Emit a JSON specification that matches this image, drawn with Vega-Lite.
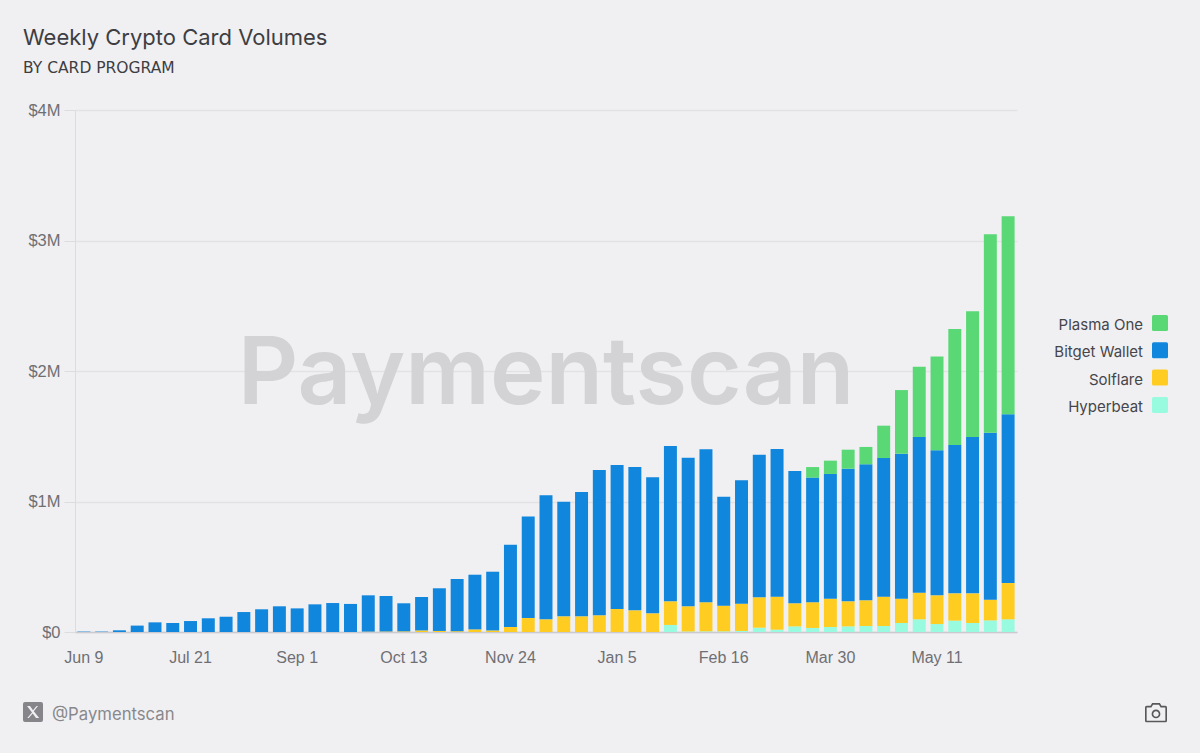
{
  "$schema": "https://vega.github.io/schema/vega-lite/v6.json",
  "autosize": "none",
  "width": 942,
  "height": 522,
  "padding": {"left": 75, "top": 110, "right": 183, "bottom": 121},
  "background": "#f0f0f3",
  "title": {
    "text": "Weekly Crypto Card Volumes",
    "subtitle": "BY CARD PROGRAM",
    "anchor": "start",
    "frame": "group",
    "dx": -52,
    "offset": 25,
    "font": "Inter",
    "fontSize": 22,
    "fontWeight": 400,
    "color": "#3e3e42",
    "subtitleFont": "DejaVu Sans",
    "subtitleFontSize": 15.5,
    "subtitleColor": "#3e3e42",
    "subtitlePadding": 11
  },
  "config": {"view": {"stroke": null}},
  "data": {"values": [
    {"week": "Jun 9", "program": "Bitget Wallet", "volume": 3000},
    {"week": "Jun 16", "program": "Bitget Wallet", "volume": 3000},
    {"week": "Jun 23", "program": "Bitget Wallet", "volume": 13000},
    {"week": "Jun 30", "program": "Bitget Wallet", "volume": 49000},
    {"week": "Jul 7", "program": "Bitget Wallet", "volume": 74000},
    {"week": "Jul 14", "program": "Bitget Wallet", "volume": 69000},
    {"week": "Jul 21", "program": "Bitget Wallet", "volume": 84000},
    {"week": "Jul 28", "program": "Bitget Wallet", "volume": 105000},
    {"week": "Aug 4", "program": "Bitget Wallet", "volume": 117000},
    {"week": "Aug 11", "program": "Bitget Wallet", "volume": 153000},
    {"week": "Aug 18", "program": "Bitget Wallet", "volume": 174000},
    {"week": "Aug 25", "program": "Bitget Wallet", "volume": 197000},
    {"week": "Sep 1", "program": "Bitget Wallet", "volume": 181000},
    {"week": "Sep 8", "program": "Bitget Wallet", "volume": 212000},
    {"week": "Sep 15", "program": "Bitget Wallet", "volume": 222000},
    {"week": "Sep 22", "program": "Bitget Wallet", "volume": 215000},
    {"week": "Sep 29", "program": "Solflare", "volume": 3000},
    {"week": "Sep 29", "program": "Bitget Wallet", "volume": 278000},
    {"week": "Oct 6", "program": "Solflare", "volume": 4000},
    {"week": "Oct 6", "program": "Bitget Wallet", "volume": 272000},
    {"week": "Oct 13", "program": "Solflare", "volume": 5000},
    {"week": "Oct 13", "program": "Bitget Wallet", "volume": 215000},
    {"week": "Oct 20", "program": "Solflare", "volume": 12000},
    {"week": "Oct 20", "program": "Bitget Wallet", "volume": 256000},
    {"week": "Oct 27", "program": "Solflare", "volume": 8000},
    {"week": "Oct 27", "program": "Bitget Wallet", "volume": 327000},
    {"week": "Nov 3", "program": "Solflare", "volume": 6000},
    {"week": "Nov 3", "program": "Bitget Wallet", "volume": 400000},
    {"week": "Nov 10", "program": "Solflare", "volume": 20000},
    {"week": "Nov 10", "program": "Bitget Wallet", "volume": 419000},
    {"week": "Nov 17", "program": "Solflare", "volume": 12000},
    {"week": "Nov 17", "program": "Bitget Wallet", "volume": 450000},
    {"week": "Nov 24", "program": "Solflare", "volume": 38000},
    {"week": "Nov 24", "program": "Bitget Wallet", "volume": 631000},
    {"week": "Dec 1", "program": "Solflare", "volume": 107000},
    {"week": "Dec 1", "program": "Bitget Wallet", "volume": 779000},
    {"week": "Dec 8", "program": "Solflare", "volume": 97000},
    {"week": "Dec 8", "program": "Bitget Wallet", "volume": 950000},
    {"week": "Dec 15", "program": "Solflare", "volume": 120000},
    {"week": "Dec 15", "program": "Bitget Wallet", "volume": 879000},
    {"week": "Dec 22", "program": "Solflare", "volume": 120000},
    {"week": "Dec 22", "program": "Bitget Wallet", "volume": 953000},
    {"week": "Dec 29", "program": "Solflare", "volume": 128000},
    {"week": "Dec 29", "program": "Bitget Wallet", "volume": 1113000},
    {"week": "Jan 5", "program": "Solflare", "volume": 176000},
    {"week": "Jan 5", "program": "Bitget Wallet", "volume": 1104000},
    {"week": "Jan 12", "program": "Solflare", "volume": 166000},
    {"week": "Jan 12", "program": "Bitget Wallet", "volume": 1098000},
    {"week": "Jan 19", "program": "Solflare", "volume": 143000},
    {"week": "Jan 19", "program": "Bitget Wallet", "volume": 1042000},
    {"week": "Jan 26", "program": "Hyperbeat", "volume": 54000},
    {"week": "Jan 26", "program": "Solflare", "volume": 181000},
    {"week": "Jan 26", "program": "Bitget Wallet", "volume": 1190000},
    {"week": "Feb 2", "program": "Hyperbeat", "volume": 4000},
    {"week": "Feb 2", "program": "Solflare", "volume": 193000},
    {"week": "Feb 2", "program": "Bitget Wallet", "volume": 1139000},
    {"week": "Feb 9", "program": "Hyperbeat", "volume": 5000},
    {"week": "Feb 9", "program": "Solflare", "volume": 223000},
    {"week": "Feb 9", "program": "Bitget Wallet", "volume": 1172000},
    {"week": "Feb 16", "program": "Hyperbeat", "volume": 5000},
    {"week": "Feb 16", "program": "Solflare", "volume": 197000},
    {"week": "Feb 16", "program": "Bitget Wallet", "volume": 835000},
    {"week": "Feb 23", "program": "Hyperbeat", "volume": 8000},
    {"week": "Feb 23", "program": "Solflare", "volume": 209000},
    {"week": "Feb 23", "program": "Bitget Wallet", "volume": 945000},
    {"week": "Mar 2", "program": "Hyperbeat", "volume": 33000},
    {"week": "Mar 2", "program": "Solflare", "volume": 233000},
    {"week": "Mar 2", "program": "Bitget Wallet", "volume": 1093000},
    {"week": "Mar 9", "program": "Hyperbeat", "volume": 18000},
    {"week": "Mar 9", "program": "Solflare", "volume": 253000},
    {"week": "Mar 9", "program": "Bitget Wallet", "volume": 1131000},
    {"week": "Mar 16", "program": "Hyperbeat", "volume": 43000},
    {"week": "Mar 16", "program": "Solflare", "volume": 177000},
    {"week": "Mar 16", "program": "Bitget Wallet", "volume": 1014000},
    {"week": "Mar 23", "program": "Hyperbeat", "volume": 31000},
    {"week": "Mar 23", "program": "Solflare", "volume": 197000},
    {"week": "Mar 23", "program": "Bitget Wallet", "volume": 955000},
    {"week": "Mar 23", "program": "Plasma One", "volume": 81000},
    {"week": "Mar 30", "program": "Hyperbeat", "volume": 38000},
    {"week": "Mar 30", "program": "Solflare", "volume": 217000},
    {"week": "Mar 30", "program": "Bitget Wallet", "volume": 956000},
    {"week": "Mar 30", "program": "Plasma One", "volume": 102000},
    {"week": "Apr 6", "program": "Hyperbeat", "volume": 43000},
    {"week": "Apr 6", "program": "Solflare", "volume": 192000},
    {"week": "Apr 6", "program": "Bitget Wallet", "volume": 1016000},
    {"week": "Apr 6", "program": "Plasma One", "volume": 146000},
    {"week": "Apr 13", "program": "Hyperbeat", "volume": 46000},
    {"week": "Apr 13", "program": "Solflare", "volume": 197000},
    {"week": "Apr 13", "program": "Bitget Wallet", "volume": 1042000},
    {"week": "Apr 13", "program": "Plasma One", "volume": 133000},
    {"week": "Apr 20", "program": "Hyperbeat", "volume": 46000},
    {"week": "Apr 20", "program": "Solflare", "volume": 225000},
    {"week": "Apr 20", "program": "Bitget Wallet", "volume": 1062000},
    {"week": "Apr 20", "program": "Plasma One", "volume": 248000},
    {"week": "Apr 27", "program": "Hyperbeat", "volume": 69000},
    {"week": "Apr 27", "program": "Solflare", "volume": 186000},
    {"week": "Apr 27", "program": "Bitget Wallet", "volume": 1111000},
    {"week": "Apr 27", "program": "Plasma One", "volume": 488000},
    {"week": "May 4", "program": "Hyperbeat", "volume": 97000},
    {"week": "May 4", "program": "Solflare", "volume": 204000},
    {"week": "May 4", "program": "Bitget Wallet", "volume": 1193000},
    {"week": "May 4", "program": "Plasma One", "volume": 539000},
    {"week": "May 11", "program": "Hyperbeat", "volume": 61000},
    {"week": "May 11", "program": "Solflare", "volume": 220000},
    {"week": "May 11", "program": "Bitget Wallet", "volume": 1111000},
    {"week": "May 11", "program": "Plasma One", "volume": 720000},
    {"week": "May 18", "program": "Hyperbeat", "volume": 87000},
    {"week": "May 18", "program": "Solflare", "volume": 209000},
    {"week": "May 18", "program": "Bitget Wallet", "volume": 1137000},
    {"week": "May 18", "program": "Plasma One", "volume": 889000},
    {"week": "May 25", "program": "Hyperbeat", "volume": 69000},
    {"week": "May 25", "program": "Solflare", "volume": 227000},
    {"week": "May 25", "program": "Bitget Wallet", "volume": 1198000},
    {"week": "May 25", "program": "Plasma One", "volume": 963000},
    {"week": "Jun 1", "program": "Hyperbeat", "volume": 89000},
    {"week": "Jun 1", "program": "Solflare", "volume": 159000},
    {"week": "Jun 1", "program": "Bitget Wallet", "volume": 1279000},
    {"week": "Jun 1", "program": "Plasma One", "volume": 1520000},
    {"week": "Jun 8", "program": "Hyperbeat", "volume": 97000},
    {"week": "Jun 8", "program": "Solflare", "volume": 278000},
    {"week": "Jun 8", "program": "Bitget Wallet", "volume": 1293000},
    {"week": "Jun 8", "program": "Plasma One", "volume": 1517000}
  ]},
  "encoding": {
    "x": {
      "field": "week",
      "type": "nominal",
      "title": null,
      "scale": {
        "domain": ["Jun 9","Jun 16","Jun 23","Jun 30","Jul 7","Jul 14","Jul 21","Jul 28","Aug 4","Aug 11","Aug 18","Aug 25","Sep 1","Sep 8","Sep 15","Sep 22","Sep 29","Oct 6","Oct 13","Oct 20","Oct 27","Nov 3","Nov 10","Nov 17","Nov 24","Dec 1","Dec 8","Dec 15","Dec 22","Dec 29","Jan 5","Jan 12","Jan 19","Jan 26","Feb 2","Feb 9","Feb 16","Feb 23","Mar 2","Mar 9","Mar 16","Mar 23","Mar 30","Apr 6","Apr 13","Apr 20","Apr 27","May 4","May 11","May 18","May 25","Jun 1","Jun 8"],
        "paddingInner": 0.27,
        "paddingOuter": 0.135
      },
      "axis": {
        "values": ["Jun 9","Jul 21","Sep 1","Oct 13","Nov 24","Jan 5","Feb 16","Mar 30","May 11"],
        "labelAngle": 0,
        "labelFont": "Liberation Sans",
        "labelFontSize": 16,
        "labelColor": "#6f6f73",
        "labelPadding": 17,
        "ticks": false,
        "grid": false,
        "domainColor": "#cbcbcf",
        "domainWidth": 1.5
      }
    }
  },
  "layer": [
    {
      "data": {"values": [{"week": "Dec 8", "volume": 1960000, "name": "Paymentscan"}]},
      "mark": {"type": "text", "font": "Inter", "fontSize": 94, "fontWeight": 600, "color": "#d3d3d5", "baseline": "middle", "align": "center"},
      "encoding": {
        "y": {"field": "volume", "type": "quantitative", "scale": {"domain": [0, 4000000]}, "title": null},
        "text": {"field": "name", "type": "nominal"}
      }
    },
    {
      "transform": [
        {"calculate": "indexof(['Hyperbeat','Solflare','Bitget Wallet','Plasma One'], datum.program)", "as": "stack_rank"}
      ],
      "mark": {"type": "bar"},
      "encoding": {
        "y": {
          "field": "volume",
          "type": "quantitative",
          "aggregate": "sum",
          "title": null,
          "scale": {"domain": [0, 4000000]},
          "axis": {
            "values": [0, 1000000, 2000000, 3000000, 4000000],
            "labelExpr": "datum.value == 0 ? '$0' : '$' + datum.value / 1000000 + 'M'",
            "labelFont": "Liberation Sans",
            "labelFontSize": 16.5,
            "labelColor": "#6f6f73",
            "labelPadding": 4,
            "tickSize": 11,
            "tickColor": "#dcdcdf",
            "domainColor": "#dcdcdf",
            "gridColor": "#e2e2e5",
            "gridWidth": 1.5
          }
        },
        "order": {"field": "stack_rank", "type": "quantitative"},
        "color": {
          "field": "program",
          "type": "nominal",
          "scale": {
            "domain": ["Plasma One", "Bitget Wallet", "Solflare", "Hyperbeat"],
            "range": ["#5ad876", "#1186dd", "#ffcc22", "#98fbdf"]
          },
          "legend": {
            "title": null,
            "orient": "none",
            "legendX": 1077,
            "legendY": 207,
            "padding": 0,
            "symbolType": "M-0.8,-1.25H0.8Q1,-1.25 1,-1.05V0.55Q1,0.75 0.8,0.75H-0.8Q-1,0.75 -1,0.55V-1.05Q-1,-1.25 -0.8,-1.25Z",
            "symbolSize": 256,
            "symbolStrokeWidth": 0,
            "symbolOpacity": 1,
            "rowPadding": 9.3,
            "labelAlign": "right",
            "labelOffset": -25,
            "labelFont": "Inter",
            "labelFontSize": 15,
            "labelColor": "#46464a",
            "labelLimit": 200
          }
        }
      }
    },
    {
      "data": {"values": []},
      "mark": {"type": "point", "filled": true, "color": "#58585c"},
      "encoding": {
        "shape": {
          "field": "handle",
          "type": "nominal",
          "scale": {
            "domain": ["@Paymentscan"],
            "range": ["M-0.8,-1.3H0.8Q1,-1.3 1,-1.1V0.5Q1,0.7 0.8,0.7H-0.8Q-1,0.7 -1,0.5V-1.1Q-1,-1.3 -0.8,-1.3ZM-0.1,-0.24L-0.57,0.3L-0.42,0.3L-0.03,-0.14L0.3,0.3L0.62,0.3L0.08,-0.38L0.5,-0.9L0.35,-0.9L0,-0.48L-0.3,-0.9L-0.6,-0.9Z"]
          },
          "legend": {
            "title": null,
            "orient": "none",
            "legendX": -52,
            "legendY": 595,
            "padding": 0,
            "symbolSize": 400,
            "symbolStrokeWidth": 0,
            "labelOffset": 9,
            "labelFont": "Inter",
            "labelFontSize": 16.7,
            "labelColor": "#88888c"
          }
        },
        "opacity": {
          "field": "camera",
          "type": "nominal",
          "scale": {"domain": ["camera"], "range": [1]},
          "legend": {
            "title": null,
            "orient": "none",
            "legendX": 1070,
            "legendY": 592,
            "padding": 0,
            "symbolType": "M-1,-0.5Q-1,-0.65 -0.85,-0.65H-0.5L-0.35,-0.9H0.35L0.5,-0.65H0.85Q1,-0.65 1,-0.5V0.7Q1,0.85 0.85,0.85H-0.85Q-1,0.85 -1,0.7ZM-0.85,-0.5V0.7H0.85V-0.5H0.42L0.27,-0.75H-0.27L-0.42,-0.5ZM0.4,0.08A0.4,0.4 0 1 1 -0.4,0.08A0.4,0.4 0 1 1 0.4,0.08ZM0.25,0.08A0.25,0.25 0 1 0 -0.25,0.08A0.25,0.25 0 1 0 0.25,0.08Z",
            "symbolSize": 484,
            "symbolStrokeWidth": 0,
            "labelExpr": "''"
          }
        }
      }
    }
  ]
}
